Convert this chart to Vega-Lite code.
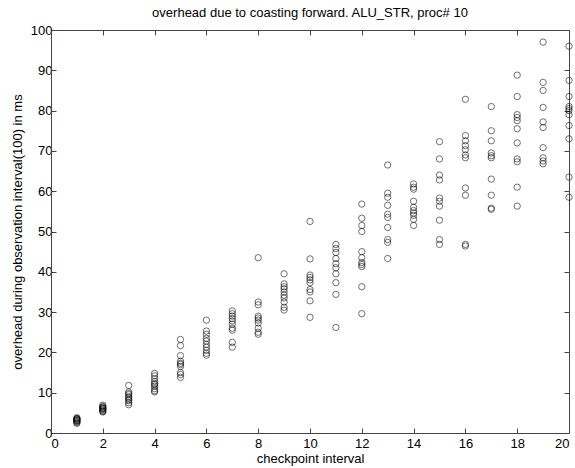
{
  "$schema": "https://vega.github.io/schema/vega-lite/v6.json",
  "width": 518,
  "height": 403,
  "autosize": "none",
  "padding": {"left": 51, "top": 30, "right": 6, "bottom": 35},
  "background": "white",
  "config": {
    "view": {"stroke": "#444444", "strokeWidth": 1},
    "font": "Liberation Sans",
    "axis": {"grid": false, "domainColor": "#444444", "tickColor": "#444444", "labelColor": "black", "titleColor": "black", "labelFont": "Liberation Sans", "titleFont": "Liberation Sans", "labelFontSize": 13, "titleFontSize": 13, "titleFontWeight": "normal", "tickSize": -5, "labelPadding": 8}
  },
  "title": {"text": "overhead due to coasting forward. ALU_STR, proc# 10", "fontSize": 13, "fontWeight": "normal", "font": "Liberation Sans", "color": "black", "offset": 4},
  "data": {"values": [
    {"interval":1,"overhead":2.4},{"interval":1,"overhead":2.6},{"interval":1,"overhead":2.8},{"interval":1,"overhead":3.0},{"interval":1,"overhead":3.1},{"interval":1,"overhead":3.2},{"interval":1,"overhead":3.4},{"interval":1,"overhead":3.5},{"interval":1,"overhead":3.6},{"interval":1,"overhead":3.8},
    {"interval":2,"overhead":5.2},{"interval":2,"overhead":5.4},{"interval":2,"overhead":5.5},{"interval":2,"overhead":5.8},{"interval":2,"overhead":6.0},{"interval":2,"overhead":6.1},{"interval":2,"overhead":6.2},{"interval":2,"overhead":6.4},{"interval":2,"overhead":6.6},{"interval":2,"overhead":6.9},
    {"interval":3,"overhead":11.8},{"interval":3,"overhead":10.2},{"interval":3,"overhead":9.8},{"interval":3,"overhead":9.5},{"interval":3,"overhead":9.0},{"interval":3,"overhead":8.7},{"interval":3,"overhead":8.3},{"interval":3,"overhead":8.0},{"interval":3,"overhead":7.5},{"interval":3,"overhead":7.0},
    {"interval":4,"overhead":14.8},{"interval":4,"overhead":14.2},{"interval":4,"overhead":13.5},{"interval":4,"overhead":12.8},{"interval":4,"overhead":12.3},{"interval":4,"overhead":12.0},{"interval":4,"overhead":11.6},{"interval":4,"overhead":11.0},{"interval":4,"overhead":10.5},{"interval":4,"overhead":10.2},
    {"interval":5,"overhead":23.2},{"interval":5,"overhead":21.7},{"interval":5,"overhead":19.2},{"interval":5,"overhead":17.8},{"interval":5,"overhead":17.3},{"interval":5,"overhead":17.0},{"interval":5,"overhead":16.5},{"interval":5,"overhead":15.0},{"interval":5,"overhead":14.5},{"interval":5,"overhead":13.8},
    {"interval":6,"overhead":28.0},{"interval":6,"overhead":25.3},{"interval":6,"overhead":24.5},{"interval":6,"overhead":23.5},{"interval":6,"overhead":22.8},{"interval":6,"overhead":22.0},{"interval":6,"overhead":21.3},{"interval":6,"overhead":20.5},{"interval":6,"overhead":19.8},{"interval":6,"overhead":19.3},
    {"interval":7,"overhead":30.3},{"interval":7,"overhead":29.6},{"interval":7,"overhead":29.0},{"interval":7,"overhead":28.4},{"interval":7,"overhead":27.8},{"interval":7,"overhead":27.0},{"interval":7,"overhead":26.0},{"interval":7,"overhead":25.5},{"interval":7,"overhead":22.5},{"interval":7,"overhead":21.3},
    {"interval":8,"overhead":43.5},{"interval":8,"overhead":32.5},{"interval":8,"overhead":31.8},{"interval":8,"overhead":29.0},{"interval":8,"overhead":28.5},{"interval":8,"overhead":28.0},{"interval":8,"overhead":27.3},{"interval":8,"overhead":26.0},{"interval":8,"overhead":25.0},{"interval":8,"overhead":24.5},
    {"interval":9,"overhead":39.5},{"interval":9,"overhead":37.0},{"interval":9,"overhead":36.3},{"interval":9,"overhead":35.8},{"interval":9,"overhead":35.0},{"interval":9,"overhead":34.2},{"interval":9,"overhead":33.5},{"interval":9,"overhead":32.5},{"interval":9,"overhead":31.2},{"interval":9,"overhead":30.5},
    {"interval":10,"overhead":52.5},{"interval":10,"overhead":43.2},{"interval":10,"overhead":39.2},{"interval":10,"overhead":38.6},{"interval":10,"overhead":38.0},{"interval":10,"overhead":37.3},{"interval":10,"overhead":35.6},{"interval":10,"overhead":35.0},{"interval":10,"overhead":32.8},{"interval":10,"overhead":28.7},
    {"interval":11,"overhead":46.8},{"interval":11,"overhead":45.8},{"interval":11,"overhead":44.8},{"interval":11,"overhead":43.3},{"interval":11,"overhead":42.0},{"interval":11,"overhead":41.0},{"interval":11,"overhead":39.5},{"interval":11,"overhead":37.3},{"interval":11,"overhead":34.4},{"interval":11,"overhead":26.2},
    {"interval":12,"overhead":56.8},{"interval":12,"overhead":53.3},{"interval":12,"overhead":51.5},{"interval":12,"overhead":50.0},{"interval":12,"overhead":45.0},{"interval":12,"overhead":43.5},{"interval":12,"overhead":42.3},{"interval":12,"overhead":41.8},{"interval":12,"overhead":41.3},{"interval":12,"overhead":36.3},{"interval":12,"overhead":29.6},
    {"interval":13,"overhead":66.5},{"interval":13,"overhead":59.5},{"interval":13,"overhead":58.5},{"interval":13,"overhead":56.5},{"interval":13,"overhead":54.3},{"interval":13,"overhead":53.5},{"interval":13,"overhead":51.0},{"interval":13,"overhead":48.0},{"interval":13,"overhead":47.3},{"interval":13,"overhead":43.3},
    {"interval":14,"overhead":61.8},{"interval":14,"overhead":61.0},{"interval":14,"overhead":60.5},{"interval":14,"overhead":57.5},{"interval":14,"overhead":56.0},{"interval":14,"overhead":55.2},{"interval":14,"overhead":54.6},{"interval":14,"overhead":54.0},{"interval":14,"overhead":53.0},{"interval":14,"overhead":51.5},
    {"interval":15,"overhead":72.3},{"interval":15,"overhead":68.0},{"interval":15,"overhead":64.0},{"interval":15,"overhead":62.8},{"interval":15,"overhead":58.3},{"interval":15,"overhead":57.5},{"interval":15,"overhead":56.3},{"interval":15,"overhead":52.8},{"interval":15,"overhead":48.0},{"interval":15,"overhead":46.8},
    {"interval":16,"overhead":82.8},{"interval":16,"overhead":73.8},{"interval":16,"overhead":72.5},{"interval":16,"overhead":71.3},{"interval":16,"overhead":70.3},{"interval":16,"overhead":69.0},{"interval":16,"overhead":68.3},{"interval":16,"overhead":60.8},{"interval":16,"overhead":59.0},{"interval":16,"overhead":46.8},{"interval":16,"overhead":46.4},
    {"interval":17,"overhead":81.0},{"interval":17,"overhead":75.0},{"interval":17,"overhead":72.5},{"interval":17,"overhead":69.5},{"interval":17,"overhead":68.8},{"interval":17,"overhead":68.3},{"interval":17,"overhead":63.0},{"interval":17,"overhead":59.0},{"interval":17,"overhead":55.8},{"interval":17,"overhead":55.5},
    {"interval":18,"overhead":88.8},{"interval":18,"overhead":83.5},{"interval":18,"overhead":79.0},{"interval":18,"overhead":78.3},{"interval":18,"overhead":77.5},{"interval":18,"overhead":75.5},{"interval":18,"overhead":72.0},{"interval":18,"overhead":68.0},{"interval":18,"overhead":67.3},{"interval":18,"overhead":61.0},{"interval":18,"overhead":56.3},
    {"interval":19,"overhead":97.0},{"interval":19,"overhead":87.0},{"interval":19,"overhead":85.0},{"interval":19,"overhead":80.8},{"interval":19,"overhead":77.2},{"interval":19,"overhead":75.8},{"interval":19,"overhead":70.8},{"interval":19,"overhead":68.3},{"interval":19,"overhead":67.5},{"interval":19,"overhead":66.8},
    {"interval":20,"overhead":96.0},{"interval":20,"overhead":87.5},{"interval":20,"overhead":83.5},{"interval":20,"overhead":81.0},{"interval":20,"overhead":80.5},{"interval":20,"overhead":80.0},{"interval":20,"overhead":79.0},{"interval":20,"overhead":76.3},{"interval":20,"overhead":73.0},{"interval":20,"overhead":63.5},{"interval":20,"overhead":58.5}
  ]},
  "layer": [
    {
      "mark": {"type": "point", "shape": "circle", "filled": false, "color": "black", "size": 40, "strokeWidth": 0.8, "clip": false},
      "encoding": {
        "x": {"field": "interval", "type": "quantitative", "scale": {"domain": [0, 20], "nice": false}, "axis": {"orient": "bottom", "values": [0,2,4,6,8,10,12,14,16,18,20], "title": "checkpoint interval", "titlePadding": 2, "labelPadding": 9}},
        "y": {"field": "overhead", "type": "quantitative", "scale": {"domain": [0, 100], "nice": false}, "axis": {"orient": "left", "values": [0,10,20,30,40,50,60,70,80,90,100], "title": "overhead during observation interval(100) in ms", "titlePadding": 6, "labelPadding": 4}}
      }
    },
    {
      "mark": {"type": "point", "opacity": 0},
      "encoding": {
        "x": {"field": "interval", "type": "quantitative", "scale": {"domain": [0, 20], "nice": false}, "axis": {"orient": "top", "values": [0,2,4,6,8,10,12,14,16,18,20], "labels": false, "title": null}},
        "y": {"field": "overhead", "type": "quantitative", "scale": {"domain": [0, 100], "nice": false}, "axis": {"orient": "right", "values": [0,10,20,30,40,50,60,70,80,90,100], "labels": false, "title": null}}
      }
    }
  ],
  "resolve": {"scale": {"x": "independent", "y": "independent"}, "axis": {"x": "independent", "y": "independent"}}
}
